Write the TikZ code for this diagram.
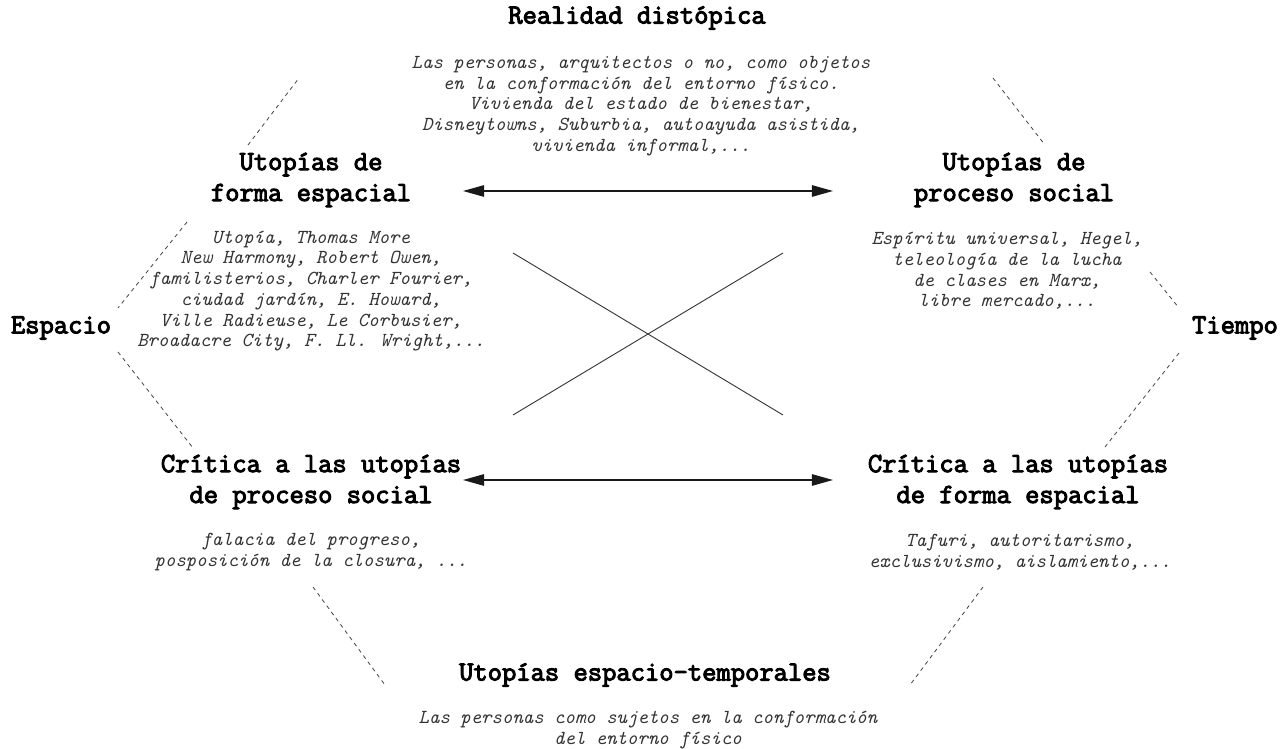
\documentclass[tikz,border=0pt]{standalone}
\usepackage{fontspec}
\newfontfamily\headfont[FakeBold=3.5]{Latin Modern Mono}
\usetikzlibrary{arrows.meta}

\begin{document}
\begin{tikzpicture}[
  x=0.02cm, y=-0.02cm,
  head/.style={font=\headfont\bfseries\fontsize{15.8}{17.6}\selectfont, align=center, inner sep=0pt},
  note/.style={font=\ttfamily\itshape\fontsize{11.3}{11.8}\selectfont, align=center, inner sep=0pt, text=black!80},
  arr/.style={{Triangle[length=12pt,width=6.5pt]}-{Triangle[length=12pt,width=6.5pt]}, line width=0.8pt, black!90},
  cross/.style={line width=0.5pt, black!80},
  dashline/.style={dashed, dash pattern=on 2.2pt off 2.2pt, line width=0.45pt, black!75}
]
\useasboundingbox (0,0) rectangle (1288,749);

% headings and their notes
\node[head] (real) at (637,18) {Realidad distópica};
\node[note] (realtxt) at (641,106) {Las personas, arquitectos o no, como objetos\\
  en la conformación del entorno físico.\\
  Vivienda del estado de bienestar,\\
  Disneytowns, Suburbia, autoayuda asistida,\\
  vivienda informal,...};

\node[head] (ufe) at (311,180) {Utopías de\\forma espacial};
\node[note] (ufetxt) at (311,291) {Utopía, Thomas More\\
  New Harmony, Robert Owen,\\
  familisterios, Charler Fourier,\\
  ciudad jardín, E. Howard,\\
  Ville Radieuse, Le Corbusier,\\
  Broadacre City, F. Ll. Wright,...};

\node[head] (ups) at (1014,180) {Utopías de\\proceso social};
\node[note] (upstxt) at (1007,271) {Espíritu universal, Hegel,\\
  teleología de la lucha\\
  de clases en Marx,\\
  libre mercado,...};

\node[head] (esp) at (61,328) {Espacio};
\node[head] (tie) at (1235,328) {Tiempo};

\node[head] (cps) at (311,482) {Crítica a las utopías\\de proceso social};
\node[note] (cpstxt) at (311,552) {falacia del progreso,\\posposición de la closura, ...};

\node[head] (cfe) at (1018,482) {Crítica a las utopías\\de forma espacial};
\node[note] (cfetxt) at (1020,552) {Tafuri, autoritarismo,\\exclusivismo, aislamiento,...};

\node[head] (uet) at (645,675) {Utopías espacio-temporales};
\node[note] (uettxt) at (648,730) {Las personas como sujetos en la conformación\\del entorno físico};

% arrows and cross
\coordinate (topL) at (463,191);
\coordinate (topR) at (833,191);
\coordinate (botL) at (463,480);
\coordinate (botR) at (833,480);
\draw[arr] (topL) -- (topR);
\draw[arr] (botL) -- (botR);

\coordinate (xTL) at (513,253);
\coordinate (xTR) at (783,253);
\coordinate (xBL) at (513,415);
\coordinate (xBR) at (783,415);
\draw[cross] (xTL) -- (xBR);
\draw[cross] (xTR) -- (xBL);

% dashed hexagon pieces
\coordinate (dA1) at (248,145);  \coordinate (dA2) at (299,78);
\coordinate (dB1) at (993,78);   \coordinate (dB2) at (1045,145);
\coordinate (dC1) at (187,222);  \coordinate (dC2) at (118,308);
\coordinate (dD1) at (118,352);  \coordinate (dD2) at (193,448);
\coordinate (dE1) at (313,587);  \coordinate (dE2) at (385,685);
\coordinate (dF1) at (983,587);  \coordinate (dF2) at (910,685);
\coordinate (dG1) at (1150,272); \coordinate (dG2) at (1179,308);
\coordinate (dH1) at (1179,353); \coordinate (dH2) at (1105,447);
\draw[dashline] (dA1) -- (dA2);
\draw[dashline] (dB1) -- (dB2);
\draw[dashline] (dC1) -- (dC2);
\draw[dashline] (dD1) -- (dD2);
\draw[dashline] (dE1) -- (dE2);
\draw[dashline] (dF1) -- (dF2);
\draw[dashline] (dG1) -- (dG2);
\draw[dashline] (dH1) -- (dH2);
\end{tikzpicture}
\end{document}
